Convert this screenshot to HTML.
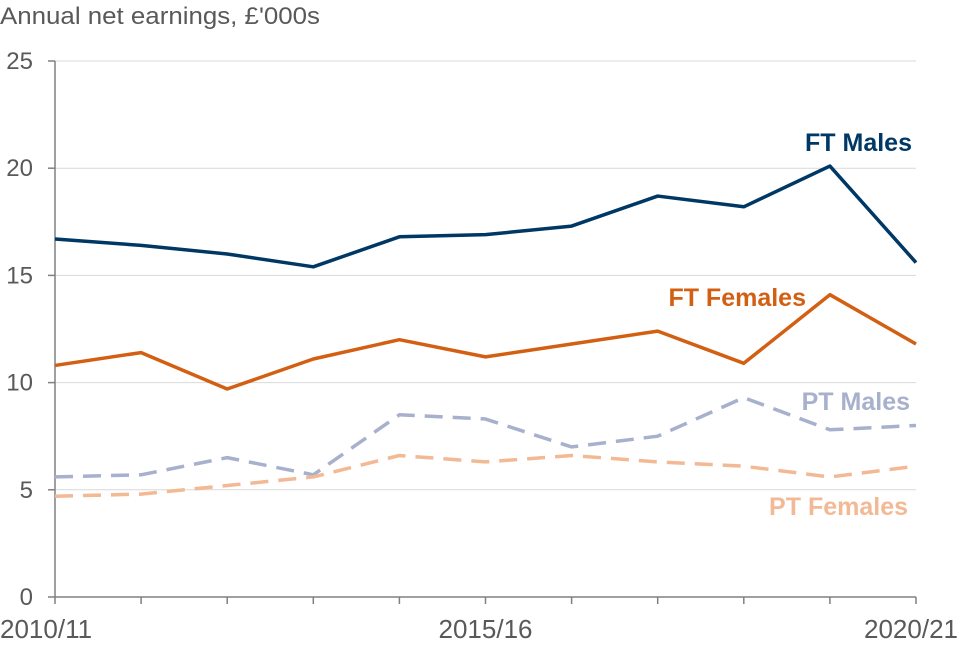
<!DOCTYPE html>
<html><head><meta charset="utf-8"><style>
body{margin:0;background:#fff;}
svg text{font-family:"Liberation Sans",Arial,sans-serif;}
</style></head><body>
<svg id="chart" width="960" height="640" xmlns="http://www.w3.org/2000/svg">
<text x="0" y="24" font-size="24" fill="#595959" textLength="320" lengthAdjust="spacingAndGlyphs">Annual net earnings, £'000s</text>
<g id="grid"></g><g id="axes"></g><g id="series"></g>
</svg>
<script>
const categories=["2010/11","2011/12","2012/13","2013/14","2014/15","2015/16","2016/17","2017/18","2018/19","2019/20","2020/21"];
const xLabels=["2010/11","","","","","2015/16","","","","","2020/21"];
const yTicks=[0,5,10,15,20,25];
const ftMales=[16.7,16.4,16.0,15.4,16.8,16.9,17.3,18.7,18.2,20.1,15.6];
const ftFemales=[10.8,11.4,9.7,11.1,12.0,11.2,11.8,12.4,10.9,14.1,11.8];
const ptMales=[5.6,5.7,6.5,5.7,8.5,8.3,7.0,7.5,9.3,7.8,8.0];
const ptFemales=[4.7,4.8,5.2,5.6,6.6,6.3,6.6,6.3,6.1,5.6,6.1];
const NS="http://www.w3.org/2000/svg";
const x0=55,x1=916,y0=597,y1=61;
const xs=i=>x0+(x1-x0)*i/(categories.length-1);
const ys=v=>y0-(y0-y1)*v/25;
function mk(t,a,p){const e=document.createElementNS(NS,t);for(const k in a)e.setAttribute(k,a[k]);p.appendChild(e);return e;}
const grid=document.getElementById('grid'),axes=document.getElementById('axes'),ser=document.getElementById('series');
yTicks.forEach(v=>{
 if(v>0){const l=mk('line',{x1:x0,x2:x1,y1:ys(v),y2:ys(v),stroke:'#d9d9d9','stroke-width':1},grid);
 
 }
 const tk=mk('line',{x1:x0-7,x2:x0,y1:ys(v),y2:ys(v),stroke:'#808080','stroke-width':1.5},axes);
 
 
 const t=mk('text',{x:33,y:ys(v)+8,'text-anchor':'end','font-size':24,fill:'#595959'},axes);t.textContent=v;
 
 
});
const ya=mk('line',{x1:x0,x2:x0,y1:y1,y2:y0,stroke:'#808080','stroke-width':1.5},axes);


const xa=mk('line',{x1:x0,x2:x1,y1:y0,y2:y0,stroke:'#808080','stroke-width':1.5},axes);


categories.forEach((c,i)=>{
 const tk=mk('line',{x1:xs(i),x2:xs(i),y1:y0,y2:y0+7,stroke:'#808080','stroke-width':1.5},axes);
 
 
 if(xLabels[i]){const anc=i==0?'start':(i==categories.length-1?'end':'middle');
  const t=mk('text',{x:i==0?0:(i==categories.length-1?958:xs(i)),y:638,'text-anchor':anc,'font-size':26,fill:'#595959'},axes);t.textContent=xLabels[i];
  
  }
});
const defs=[
 [ftMales,'#003865',null,'FT Males',912,151,'ft-males'],
 [ftFemales,'#d35f12',null,'FT Females',806,306,'ft-females'],
 [ptMales,'#a7b0cc','18 10','PT Males',910,410,'pt-males'],
 [ptFemales,'#f3b894','18 10','PT Females',908,515,'pt-females']];
defs.forEach(d=>{
 const pts=d[0].map((v,i)=>xs(i)+','+ys(v)).join(' ');
 const a={points:pts,fill:'none',stroke:d[1],'stroke-width':3.5,'stroke-linejoin':'round'};
 if(d[2])a['stroke-dasharray']=d[2];
 const p=mk('polyline',a,ser);
 
 
 const t=mk('text',{x:d[4],y:d[5],'text-anchor':'end','font-size':25,'font-weight':'bold',fill:d[1]},ser);t.textContent=d[3];
 
 
});
</script>
</body></html>
